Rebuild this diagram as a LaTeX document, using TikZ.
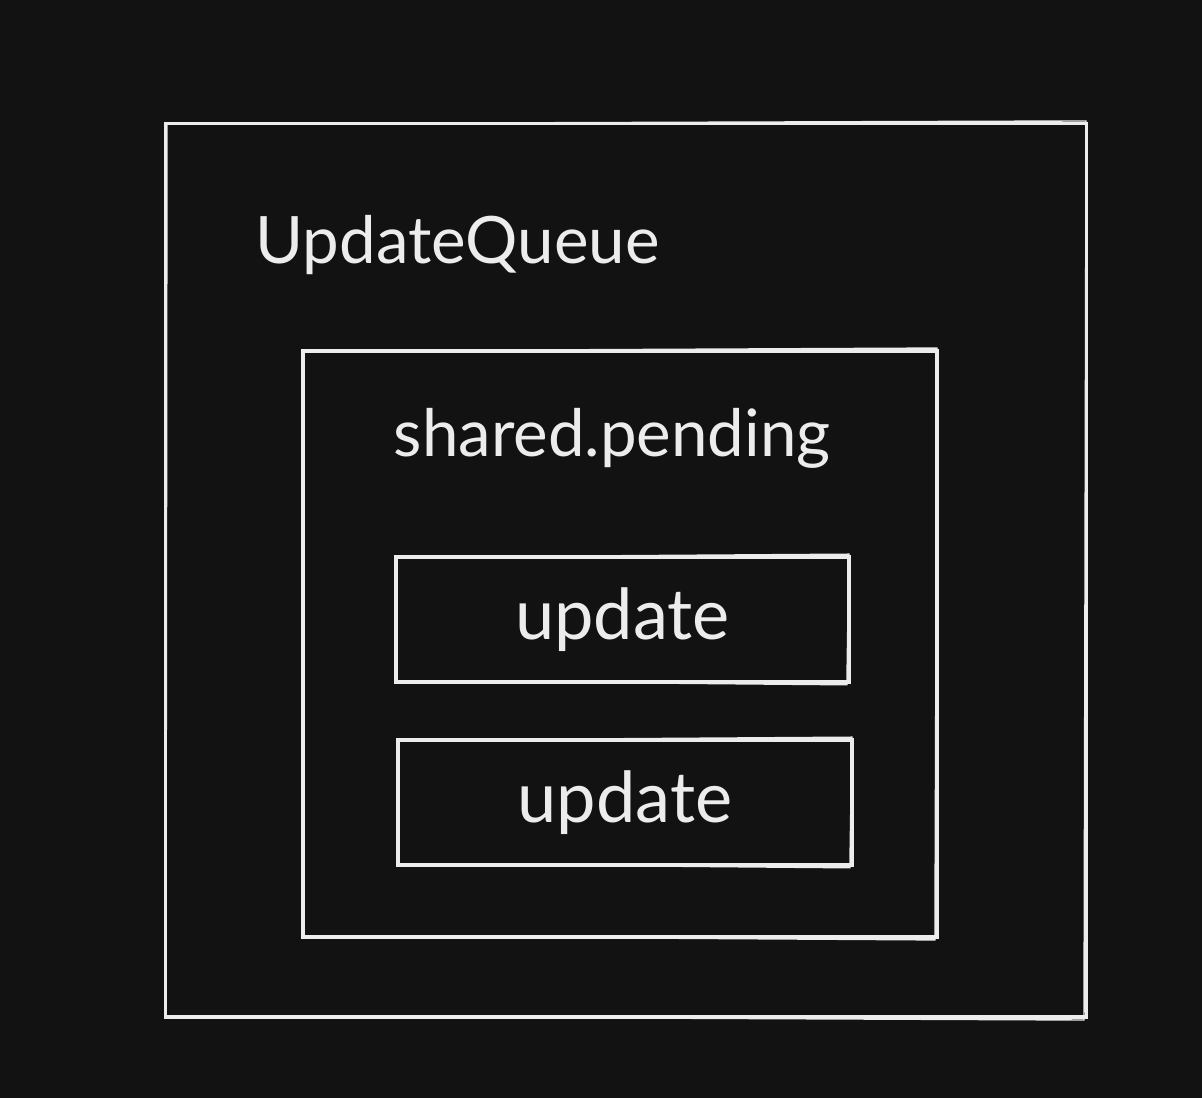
\documentclass[tikz,border=0pt]{standalone}
\usepackage{fontspec}
\setmainfont{Lato}
\usepackage{tikz}
\usetikzlibrary{positioning}

\definecolor{bgdark}{HTML}{121212}
\definecolor{chalk}{HTML}{ECECEC}

\begin{document}
\begin{tikzpicture}[x=0.01cm, y=-0.01cm]
\fill[bgdark] (0,0) rectangle (1202,1098);
\useasboundingbox (0,0) rectangle (1202,1098);

\begin{scope}[every node/.style={rectangle,draw=chalk,line width=1pt,inner sep=0pt,
              text=chalk,font=\fontsize{20}{24}\selectfont}]
    \node[minimum width=9.2cm, minimum height=8.93cm] (queue) at (626,570.5) {};
    \node[minimum width=6.34cm, minimum height=5.86cm] (pending) at (620,644) {};
    \node[minimum width=4.53cm, minimum height=1.25cm] (upd1) at (622.5,619.5) {update};
    \node[minimum width=4.54cm, minimum height=1.25cm] (upd2) at (625,802.5) {update};
\end{scope}

% titles
\begin{scope}[every node/.style={text=chalk,inner sep=0pt,font=\fontsize{18.6}{22}\selectfont}]
    \node[anchor=base west] (qtitle) at (255,264) {UpdateQueue};
    \node[anchor=base west] (ptitle) at (393,457) {shared.pending};
\end{scope}

% second, lighter stroke for the hand-drawn look
\begin{scope}[draw=chalk, line width=0.4pt]
    \foreach \n in {queue,pending,upd1,upd2}
        \draw ([shift={(3,2)}]\n.north west) -- ([shift={(-2,-1)}]\n.north east)
              -- ([shift={(-4,1)}]\n.south east) -- ([shift={(2,-3)}]\n.south west) -- cycle;
\end{scope}
\end{tikzpicture}
\end{document}
